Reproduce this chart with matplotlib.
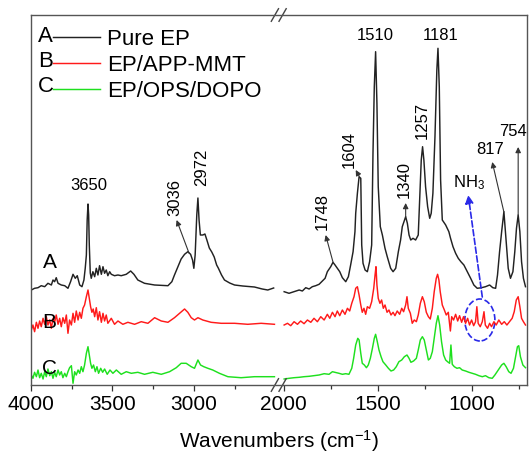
import numpy as np
import matplotlib
matplotlib.use("Agg")
import matplotlib.pyplot as plt
from matplotlib.patches import Ellipse

plt.rcParams["font.family"] = ["Liberation Sans", "DejaVu Sans"]
plt.rcParams["mathtext.default"] = "regular"

# ---- spectra: high-wavenumber segment (4000-2500 cm-1) ----
wn_A_hi = [3998, 3978, 3957, 3937, 3916, 3896, 3875, 3865, 3855, 3845, 3834, 3814, 3793, 3773,
           3757, 3742, 3728, 3716, 3701, 3687, 3675, 3667, 3660, 3655, 3650, 3646, 3642, 3636,
           3630, 3620, 3609, 3599, 3589, 3579, 3568, 3558, 3548, 3538, 3528, 3517, 3507, 3487,
           3466, 3446, 3415, 3388, 3368, 3344, 3303, 3241, 3159, 3135, 3119, 3098, 3078, 3057,
           3037, 3020, 3008, 3000, 2992, 2982, 2975, 2968, 2960, 2945, 2932, 2920, 2905, 2890,
           2875, 2860, 2850, 2830, 2812, 2780, 2750, 2700, 2628, 2580, 2546, 2510]
A_hi = [95, 96.7, 97.3, 99.3, 98.3, 101.7, 100, 105, 103.3, 107.3, 101.7, 100, 99.3, 96.7,
        103.3, 110.7, 106.7, 109.3, 100, 98.3, 105, 116.7, 130, 165, 181, 170, 140, 112,
        106.7, 113.3, 108.3, 116.7, 110, 119.3, 110.7, 118.3, 111.7, 115, 109.3, 113.3, 110.7, 109.3,
        110, 109.3, 110.7, 114, 110.7, 105, 101.7, 100, 99.3, 103.3, 110, 118.3, 126, 130.7,
        133.3, 130.7, 125, 116.7, 130, 170, 187, 165, 150, 150, 151, 145, 137, 133,
        128, 120, 117, 110, 105, 102, 100, 99, 98, 96, 95, 97]

wn_B_hi = [3998, 3988, 3978, 3967, 3957, 3947, 3937, 3926, 3916, 3906, 3896, 3885, 3875, 3865,
           3855, 3845, 3834, 3824, 3814, 3804, 3793, 3783, 3773, 3763, 3752, 3742, 3732, 3722,
           3711, 3701, 3691, 3681, 3671, 3660, 3650, 3642, 3634, 3626, 3618, 3609, 3599, 3589,
           3579, 3568, 3558, 3548, 3538, 3528, 3507, 3487, 3466, 3436, 3405, 3364, 3323, 3282,
           3241, 3200, 3159, 3119, 3088, 3057, 3037, 3016, 2996, 2975, 2945, 2894, 2832, 2750,
           2669, 2587, 2505]
B_hi = [55, 60, 53.3, 62.7, 56.7, 64, 58.3, 66.7, 60.7, 68.3, 60, 65, 56.7, 66.7,
        62.7, 70, 60.7, 66.7, 58.3, 67.3, 61.7, 70, 51.7, 65, 60, 71.7, 62.7, 74,
        65, 72.7, 66.7, 76.7, 80, 88.3, 95, 86.7, 78.3, 72.7, 76, 68.3, 77.3, 65,
        73.3, 62.7, 71.7, 64, 70, 61.7, 66.7, 60.7, 64, 60.7, 62.7, 60.7, 63.3, 61.7,
        67.3, 64, 62.7, 67.3, 71.7, 76, 72.7, 67.3, 65, 67.3, 65, 62.7, 61.7, 61.7,
        60.7, 61.7, 60.7]

wn_C_hi = [3998, 3988, 3978, 3967, 3957, 3947, 3937, 3926, 3916, 3906, 3896, 3885, 3875, 3865,
           3855, 3845, 3834, 3824, 3814, 3804, 3793, 3783, 3773, 3763, 3752, 3742, 3732, 3722,
           3711, 3701, 3691, 3681, 3671, 3660, 3650, 3642, 3634, 3626, 3616, 3605, 3595, 3585,
           3572, 3560, 3548, 3532, 3515, 3497, 3476, 3446, 3415, 3384, 3344, 3303, 3252, 3200,
           3149, 3108, 3078, 3047, 3016, 2996, 2975, 2959, 2939, 2914, 2884, 2843, 2791, 2710,
           2628, 2505]
C_hi = [10, 6.7, 12.7, 8.3, 15, 7.3, 11.7, 6, 13.3, 8.3, 16, 9.3, 13.3, 6.7,
        12.7, 8.3, 15, 10, 13.3, 7.3, 11.7, 8.3, 13.3, 17.3, 19.3, 1.7, 13.3, 10,
        15, 11.7, 18.3, 13.3, 20, 31.7, 38.3, 30, 21.7, 16.7, 20, 13.3, 18.3, 11.7,
        16.7, 12.7, 16, 10.7, 15, 11.7, 15, 10.7, 13.3, 11.7, 12.7, 10.7, 12.7, 10.7,
        13.3, 17.3, 21.7, 21.7, 18.3, 16.7, 25, 20, 18.3, 16.7, 15, 11.7, 8.3, 7.3,
        8.3, 8.3]

# ---- spectra: fingerprint segment (2000-700 cm-1) ----
wn_A_lo = [1998, 1972, 1945, 1918, 1901, 1883, 1865, 1848, 1830, 1812, 1794, 1780, 1768, 1750,
           1738, 1727, 1715, 1702, 1688, 1670, 1656, 1644, 1631, 1621, 1617, 1608, 1599, 1590,
           1585, 1578, 1567, 1555, 1543, 1532, 1525, 1518, 1511, 1504, 1497, 1486, 1475, 1461,
           1449, 1431, 1418, 1404, 1390, 1378, 1369, 1360, 1351, 1342, 1333, 1324, 1312, 1298,
           1284, 1275, 1268, 1261, 1254, 1245, 1234, 1223, 1215, 1206, 1195, 1185, 1179, 1172,
           1165, 1156, 1138, 1121, 1112, 1099, 1085, 1071, 1057, 1041, 1023, 1005, 988, 970,
           947, 926, 904, 887, 872, 862, 851, 840, 828, 816, 805, 793, 780, 770,
           761, 752, 743, 734, 724, 713]
A_lo = [93.3, 91.7, 93.3, 95, 94, 97.3, 96, 98.3, 99.3, 100.7, 104, 106.7, 113.3, 118.3,
        122.7, 120, 116.7, 113.3, 107.3, 103.3, 108.3, 120, 133.3, 153.3, 171.7, 191.7, 208.3, 206.7,
        140, 121.7, 115, 113.3, 123.3, 140, 231.7, 298.3, 333.3, 281.7, 198.3, 158.3, 150, 136.7,
        128.3, 116.7, 113.3, 116.7, 133.3, 145, 158.3, 163.3, 168.3, 161.7, 150, 145, 146.7, 145,
        150, 191.7, 225, 238.3, 225, 198.3, 178.3, 166.7, 171.7, 191.7, 248.3, 315, 336.7, 298.3,
        205, 165, 160, 153.3, 146.7, 138.3, 131.7, 126.7, 123.3, 120, 113.3, 106.7, 100, 96.7,
        97.3, 98.3, 100, 97.3, 96.7, 110, 133.3, 153.3, 173.3, 143.3, 116.7, 106.7, 113.3, 133.3,
        156.7, 170, 153.3, 123.3, 106.7, 98.3]

wn_B_lo = [1998, 1980, 1963, 1945, 1927, 1910, 1892, 1874, 1856, 1839, 1821, 1803, 1785, 1768,
           1755, 1741, 1727, 1715, 1702, 1688, 1674, 1661, 1649, 1638, 1626, 1617, 1608, 1599,
           1590, 1582, 1573, 1564, 1555, 1543, 1532, 1521, 1514, 1509, 1504, 1497, 1488, 1479,
           1470, 1461, 1450, 1440, 1429, 1418, 1408, 1396, 1383, 1372, 1362, 1351, 1344, 1337,
           1326, 1316, 1305, 1294, 1284, 1273, 1262, 1252, 1241, 1230, 1220, 1209, 1199, 1188,
           1181, 1174, 1167, 1156, 1145, 1135, 1124, 1113, 1106, 1096, 1085, 1074, 1064, 1053,
           1043, 1032, 1021, 1011, 1000, 989, 979, 972, 965, 954, 943, 934, 927, 915,
           904, 894, 881, 869, 855, 840, 826, 812, 798, 784, 773, 762, 752, 743,
           734, 724, 713]
B_lo = [60, 61.7, 59.3, 63.3, 60.7, 64, 61.3, 65, 62.7, 66.7, 63.3, 68.3, 65, 70.7,
        66.7, 72.7, 68.3, 74, 69.3, 75, 70.7, 76.7, 74, 81.7, 88.3, 96.7, 98.3, 90,
        80, 72.7, 76.7, 70.7, 78.3, 76.7, 83.3, 96.7, 110, 118.3, 100, 86.7, 81.7, 85,
        76.7, 80, 72.7, 75, 70, 72.7, 69.3, 74, 70.7, 76.7, 73.3, 80, 88.3, 76.7,
        71.7, 61.7, 65, 63.3, 70, 81.7, 88.3, 83.3, 72.7, 68.3, 66, 76.7, 93.3, 106.7,
        110.7, 105, 93.3, 80, 75, 70, 72.7, 54, 68.3, 65, 70.7, 64, 69.3, 62.7,
        68.3, 61.7, 66.7, 60, 65, 59.3, 63.3, 78.3, 61.7, 58.3, 63.3, 73.3, 60, 56.7,
        61.7, 58.3, 63.3, 60, 65, 60.7, 63.3, 60, 63.3, 66.7, 73.3, 85, 88.3, 78.3,
        66.7, 63.3, 60]

wn_C_lo = [1998, 1972, 1945, 1918, 1892, 1865, 1839, 1812, 1785, 1759, 1741, 1727, 1706, 1688,
           1670, 1653, 1638, 1628, 1617, 1606, 1599, 1590, 1582, 1571, 1560, 1550, 1539, 1528,
           1518, 1511, 1502, 1493, 1482, 1472, 1457, 1443, 1429, 1415, 1401, 1387, 1372, 1358,
           1344, 1333, 1323, 1309, 1294, 1284, 1273, 1262, 1252, 1241, 1230, 1220, 1209, 1199,
           1188, 1179, 1170, 1160, 1149, 1138, 1128, 1117, 1110, 1103, 1092, 1078, 1064, 1050,
           1032, 1014, 996, 979, 961, 943, 926, 908, 890, 876, 864, 851, 840, 828,
           816, 802, 790, 777, 767, 756, 749, 740, 727, 713]
C_lo = [6, 6.7, 7.3, 7.7, 8.3, 8.7, 9.3, 10, 11.3, 10.7, 13.3, 12.7, 11.7, 10.7,
        11.3, 10.7, 16.7, 26.7, 40, 46.7, 45, 31.7, 21.7, 20, 17.3, 20, 26.7, 36.7,
        46.7, 50.7, 43.3, 35, 28.3, 23.3, 20, 16.7, 14, 15, 18.3, 23.3, 25, 28.3,
        30, 26.7, 22.7, 24, 26.7, 35, 45, 48.3, 45, 35, 25, 26.7, 33.3, 46.7,
        61.7, 69.3, 60, 43.3, 30, 25, 23.3, 21.7, 40, 20.7, 18.3, 16.7, 17.3, 15,
        14, 12.7, 11.7, 10.7, 9.3, 8.3, 9.3, 7.3, 6.7, 10, 13.3, 16.7, 20, 21.7,
        18.3, 13.3, 11.7, 16.7, 26.7, 38.3, 39.3, 28.3, 20, 17.3]

labels = ["Pure EP", "EP/APP-MMT", "EP/OPS/DOPO"]
letters = ["A", "B", "C"]
colors = ["#222222", "#ff1a1a", "#1ee01e"]

major_ticks = [4000, 3500, 3000, 2000, 1500, 1000]
minor_ticks = [3750, 3250, 2750, 1750, 1250, 750]

# broken wavenumber axis: 4000-2500 and 2000-700 with a narrow gap between.
# The scale value grows with wavenumber; the axis is then shown reversed.
_wn_nodes = [700, 2000, 2500, 4000]
_t_nodes = [-497.4, -253.0, -244.5, 0.0]


def fwd(x):
    return np.interp(x, _wn_nodes, _t_nodes)


def inv(t):
    return np.interp(t, _t_nodes, _wn_nodes)


def joined(wn_hi, y_hi, wn_lo, y_lo):
    x = np.concatenate([wn_hi, [np.nan], wn_lo])
    y = np.concatenate([y_hi, [np.nan], y_lo])
    return x, y


fig = plt.figure(figsize=(5.30, 4.55), dpi=100)
ax = fig.add_axes([31 / 530, 70 / 455, 496 / 530, 370 / 455])
ax.set_xscale("function", functions=(fwd, inv))

series = [
    (wn_A_hi, A_hi, wn_A_lo, A_lo),
    (wn_B_hi, B_hi, wn_B_lo, B_lo),
    (wn_C_hi, C_hi, wn_C_lo, C_lo),
]
for (wh, yh, wl, yl), lab, col in zip(series, labels, colors):
    x, y = joined(wh, yh, wl, yl)
    ax.plot(x, y, color=col, lw=1.05, label=lab)

ax.set_xlim(4000, 705)
ax.set_ylim(0, 370)
ax.set_yticks([])
ax.set_xticks(major_ticks, [str(t) for t in major_ticks])
ax.set_xticks(minor_ticks, minor=True)
ax.tick_params(axis="x", which="major", direction="out", length=4.5, width=0.9,
               labelsize=15, pad=3, colors="#333333", labelcolor="black")
ax.tick_params(axis="x", which="minor", direction="out", length=3, width=0.9, colors="#333333")
for s in ax.spines.values():
    s.set_color("#555555")
    s.set_linewidth(1.0)

ax.set_xlabel("Wavenumbers (cm$^{-1}$)", fontsize=15, labelpad=10)

# axis break marks
for yb in (0.0, 1.0):
    for x0 in (0.4845, 0.5):
        ax.plot([x0, x0 + 0.0145], [yb - 0.017, yb + 0.017], color="#444444", lw=1.0,
                transform=ax.transAxes, clip_on=False)

# curve letters
for letter, (xw, yh) in zip(letters, [(3885, 123), (3885, 63), (3885, 17)]):
    ax.text(xw, yh, letter, fontsize=15, ha="center", va="center")

# legend with leading letters
leg = ax.legend(loc="upper left", bbox_to_anchor=(0.0444, 0.962), frameon=False,
                fontsize=16, handlelength=2.1, handletextpad=0.35, labelspacing=0.22,
                borderpad=0, borderaxespad=0)
for i, letter in enumerate(letters):
    ax.text(0.0296, 0.9414 - i * 0.0676, letter, fontsize=16, ha="center", va="center",
            transform=ax.transAxes)

# peak labels
pk = dict(fontsize=12, ha="center", va="center")
ax.text(3642, 200, "3650", **pk)
ax.text(3117, 188, "3036", rotation=90, **pk)
ax.text(2953, 218, "2972", rotation=90, **pk)
ax.text(1511, 349, "1510", **pk)
ax.text(1165, 349, "1181", **pk)
ax.text(1654, 235, "1604", rotation=90, **pk)
ax.text(1793, 173, "1748", rotation=90, **pk)
ax.text(1360, 205, "1340", rotation=90, **pk)
ax.text(1262, 265, "1257", rotation=90, **pk)
ax.text(899, 235, "817", **pk)
ax.text(777, 253, "754", **pk)
ax.text(1016, 202, "NH$_3$", **pk)

arrow = dict(arrowstyle="-|>", color="#333333", lw=0.8, mutation_scale=8,
             shrinkA=0, shrinkB=0)
for tail, head in [((3030, 132), (3106, 165)),
                   ((1599, 209), (1617, 215)),
                   ((1738, 123), (1777, 150)),
                   ((1351, 168), (1351, 182)),
                   ((828, 173), (890, 223)),
                   ((752, 170), (752, 238))]:
    ax.annotate("", xy=head, xytext=tail, arrowprops=arrow)

ax.annotate("", xy=(1018, 190), xytext=(943, 88),
            arrowprops=dict(arrowstyle="-|>", color="#2a2ae8", lw=1.2, ls="--",
                            mutation_scale=12, shrinkA=0, shrinkB=0))
ax.add_patch(Ellipse((956, 65), width=160, height=42, fill=False, ls="--",
                     ec="#2a2ae8", lw=1.2))

fig.savefig("out.png", dpi=100)
